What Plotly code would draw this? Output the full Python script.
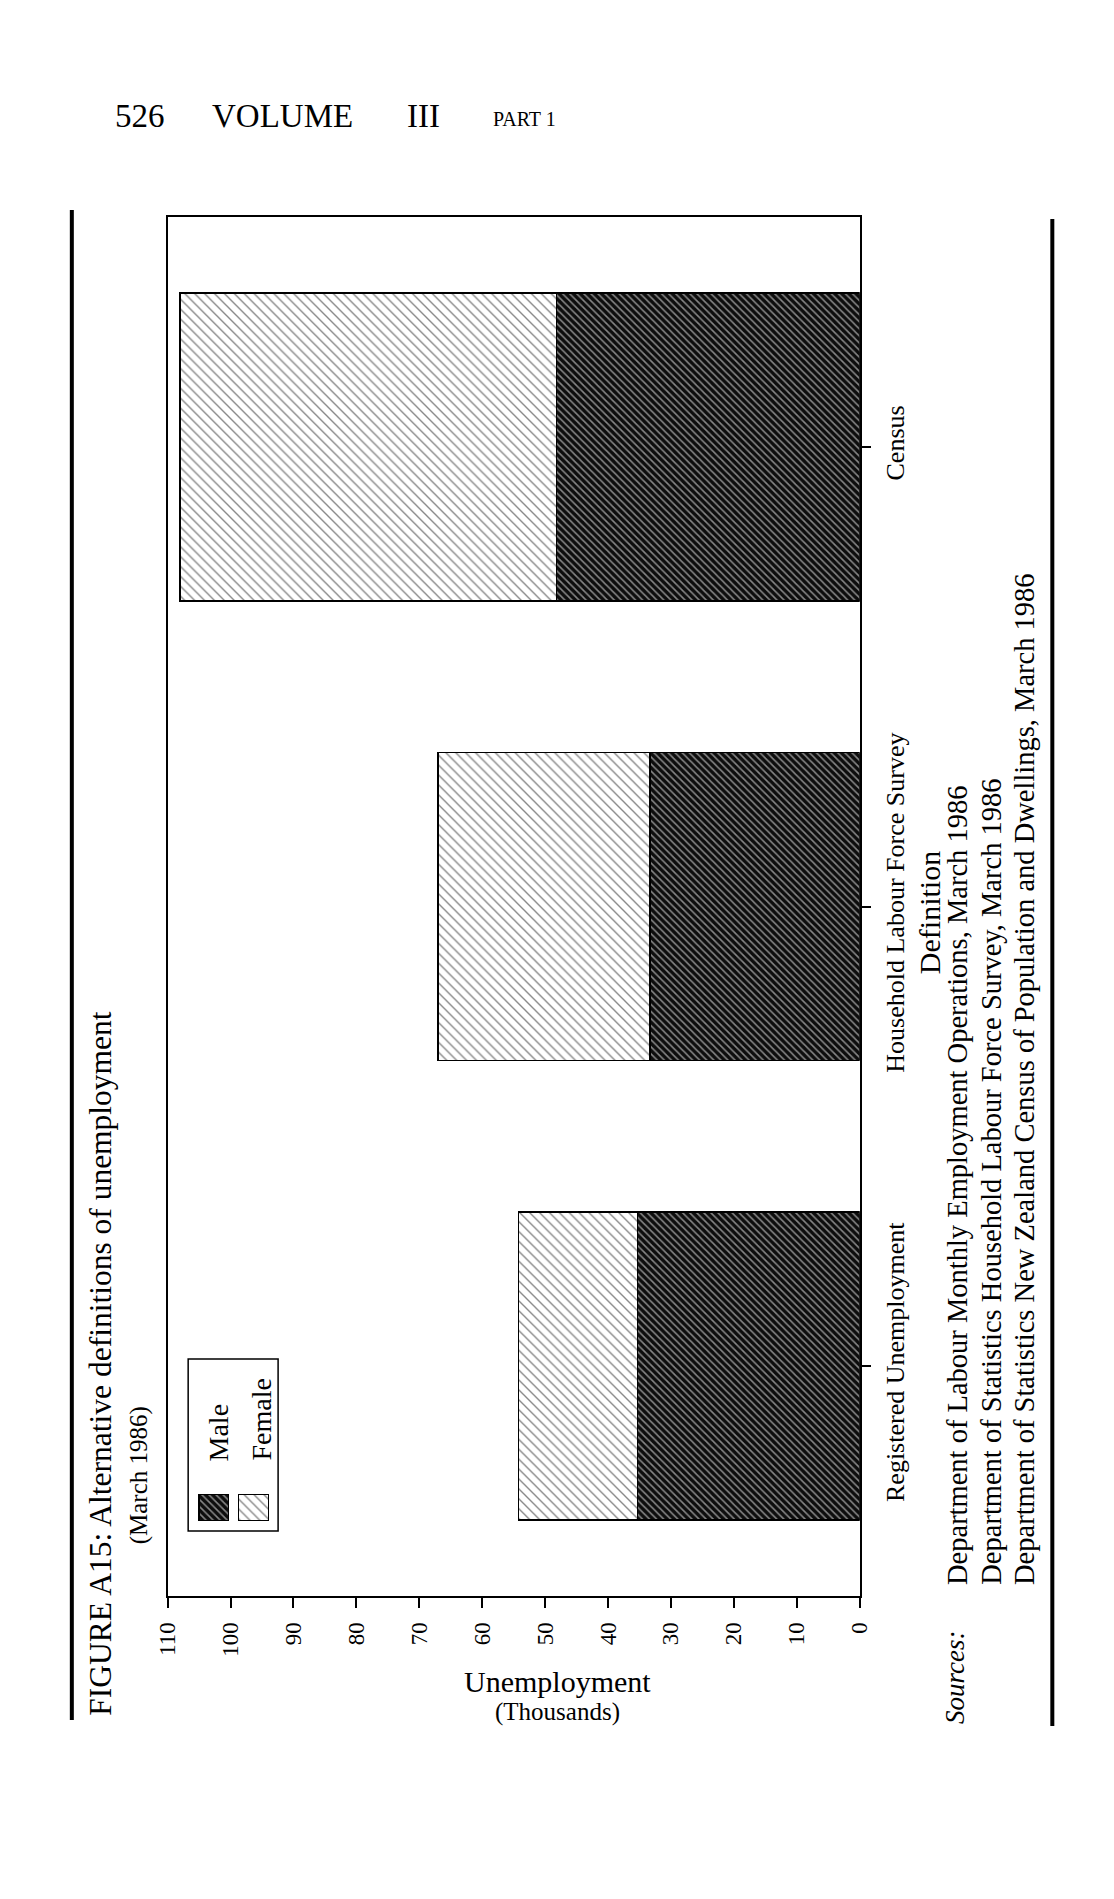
import plotly.graph_objects as go

W, H = 1114, 1899

# ---- data (thousands unemployed, March 1986) ----
categories = ["Registered Unemployment", "Household Labour Force Survey", "Census"]
male = [35.3, 33.3, 48.2]
female = [18.9, 33.7, 59.8]
value_ticks = list(range(0, 111, 10))

legend_keys = ["Male", "Female"]

source_lines = [
    "Department of Labour Monthly Employment Operations, March 1986",
    "Department of Statistics Household Labour Force Survey, March 1986",
    "Department of Statistics New Zealand Census of Population and Dwellings, March 1986",
]

SERIF = "Liberation Serif"


def px(x):
    return x / W


def py(y):
    return 1 - y / H


male_pattern = dict(shape="\\", bgcolor="#0d0d0d", fgcolor="white", size=5, solidity=0.32)
female_pattern = dict(shape="\\", bgcolor="white", fgcolor="#111111", size=7, solidity=0.2)
outline = dict(color="black", width=1.5)

fig = go.Figure()

# main (rotated) chart: horizontal stacked bars, value axis reversed
fig.add_trace(go.Bar(y=categories, x=male, orientation="h", name="Male", width=0.67,
                     marker=dict(color="#0d0d0d", pattern=male_pattern, line=outline)))
fig.add_trace(go.Bar(y=categories, x=female, orientation="h", name="Female", width=0.67,
                     marker=dict(color="white", pattern=female_pattern, line=outline)))

# legend keys drawn on a small inset axis
fig.add_trace(go.Bar(x=legend_keys[:1], y=[1], xaxis="x2", yaxis="y2", width=0.75,
                     marker=dict(color="#0d0d0d", pattern=male_pattern, line=outline)))
fig.add_trace(go.Bar(x=legend_keys[1:], y=[1], xaxis="x2", yaxis="y2", width=0.75,
                     marker=dict(color="white", pattern=female_pattern, line=outline)))

fig.update_layout(
    width=W, height=H, autosize=False,
    margin=dict(l=0, r=0, t=0, b=0),
    paper_bgcolor="white", plot_bgcolor="white",
    barmode="stack", showlegend=False,
    font=dict(family=SERIF, color="black"),
    xaxis=dict(domain=[px(150), px(858)], range=[110, 0], tickvals=value_ticks,
               ticks="outside", ticklen=10, tickwidth=1.5, tickcolor="black",
               tickangle=-90, tickfont=dict(size=23), ticklabelstandoff=5,
               showline=True, linecolor="black", linewidth=2, mirror=True,
               showgrid=False, zeroline=False),
    yaxis=dict(domain=[py(1588), py(209)], side="right", categoryorder="array",
               categoryarray=categories, range=[-0.5, 2.5],
               ticks="outside", ticklen=9, tickwidth=1.5, tickcolor="black",
               tickangle=-90, tickfont=dict(size=26), ticklabelstandoff=2,
               showline=True, linecolor="black", linewidth=2, mirror=True,
               showgrid=False, zeroline=False),
    xaxis2=dict(domain=[px(177), px(258)], anchor="y2", visible=False,
                categoryorder="array", categoryarray=legend_keys),
    yaxis2=dict(domain=[py(1513), py(1486)], anchor="x2", range=[0, 1], visible=False),
)

# page rules and legend box
fig.add_shape(type="line", xref="paper", yref="paper", x0=px(52), x1=px(52),
              y0=py(202), y1=py(1712), line=dict(color="black", width=4))
fig.add_shape(type="line", xref="paper", yref="paper", x0=px(1055), x1=px(1055),
              y0=py(211), y1=py(1718), line=dict(color="black", width=4))
fig.add_shape(type="rect", xref="paper", yref="paper", x0=px(171), x1=px(263),
              y0=py(1523), y1=py(1351), line=dict(color="black", width=1.5))


def note(text, x, y, size, angle=0, xa="center", ya="middle", italic=False):
    fig.add_annotation(text=text, x=px(x), y=py(y), xref="paper", yref="paper",
                       showarrow=False, textangle=angle, xanchor=xa, yanchor=ya,
                       font=dict(family=SERIF, size=size, color="black",
                                 style="italic" if italic else "normal"))


# running head
note("526", 122, 108, 33)
note("VOLUME", 268, 108, 33)
note("III", 412, 108, 33)
note("PART 1", 515, 111, 20)

# title block (rotated)
note("FIGURE A15: Alternative definitions of unemployment", 81, 1710, 31.5, -90, ya="bottom")
note("(March 1986)", 121, 1538, 25, -90, ya="bottom")

# legend labels
note("Male", 202, 1455, 28, -90, ya="bottom")
note("Female", 245, 1455, 28, -90, ya="bottom")

# axis titles
note("Unemployment", 549, 1673, 30)
note("(Thousands)", 549, 1704, 25)
note("Definition", 929, 905, 30, -90)

# sources
note("Sources:", 955, 1718, 27, -90, ya="bottom", italic=True)
for i, line in enumerate(source_lines):
    note(line, 958 + 34 * i, 1579, 28.5, -90, ya="bottom")

fig.write_html("out.html")
